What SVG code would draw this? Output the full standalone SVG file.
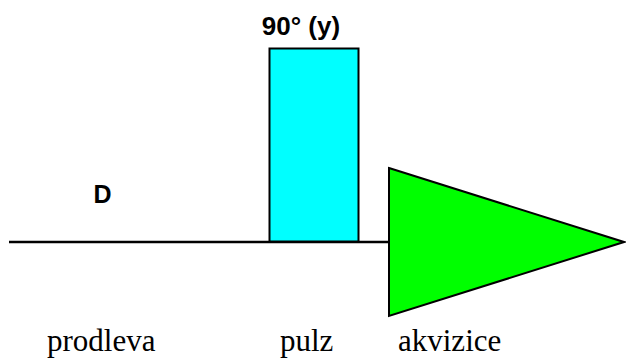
<svg xmlns="http://www.w3.org/2000/svg" width="626" height="358" viewBox="0 0 626 358">
<style>
.lbl{font-family:"Liberation Sans",Arial,sans-serif;font-weight:bold;fill:#000}
.cap{font-family:"Liberation Serif","Times New Roman",serif;font-size:31px;fill:#000}
.ln{stroke:#000;stroke-width:2.5;fill:none}
</style>
<rect width="626" height="358" fill="#fff"/>
<g id="connectors">
<line class="ln" x1="9" y1="242" x2="390" y2="242"/>
</g>
<g id="pulse">
<rect x="269.5" y="48.5" width="89" height="193" fill="#00ffff" stroke="#000" stroke-width="2"/>
<text class="lbl" x="301" y="35" font-size="26" text-anchor="middle">90° (y)</text>
</g>
<g id="acquisition">
<polygon points="389,168 624,242 389,316" fill="#00ff00" stroke="#000" stroke-width="2" stroke-linejoin="miter"/>
</g>
<g id="delay">
<text class="lbl" x="102.5" y="203" font-size="25" text-anchor="middle">D</text>
</g>
<g id="captions">
<text class="cap" x="47" y="351">prodleva</text>
<text class="cap" x="280" y="351">pulz</text>
<text class="cap" x="398" y="351">akvizice</text>
</g>
</svg>
